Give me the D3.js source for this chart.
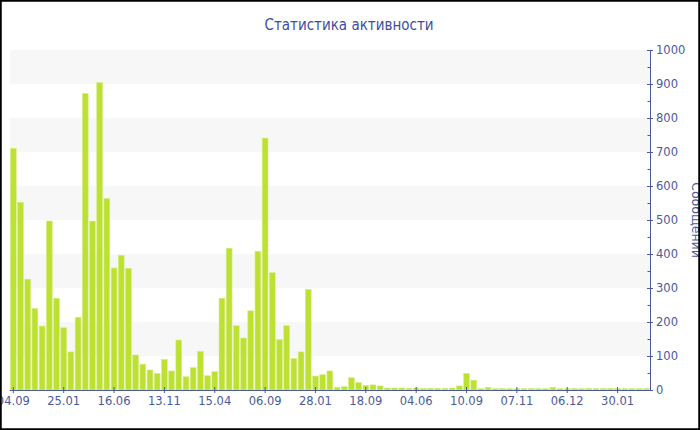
<!DOCTYPE html>
<html>
<head>
<meta charset="utf-8">
<title>Статистика активности</title>
<script src="https://d3js.org/d3.v7.min.js"></script>
<style>
  html, body { margin: 0; padding: 0; background: #fff; }
  svg { display: block; }
</style>
</head>
<body>
<div id="chart"></div>
<script>
// messages per period
var values = [711, 552, 326, 240, 188, 497, 270, 183, 112, 214,
              872, 497, 904, 563, 359, 396, 358, 103, 76, 59,
              49, 90, 56, 147, 39, 66, 114, 42, 54, 270,
              417, 189, 153, 233, 408, 741, 345, 148, 189, 93,
              112, 296, 41, 45, 56, 8, 10, 36, 22, 14,
              15, 12, 6, 6, 6, 5, 6, 5, 5, 5,
              5, 6, 12, 49, 29, 4, 8, 4, 4, 4,
              4, 4, 4, 4, 4, 8, 4, 4, 4, 4,
              5, 4, 4, 5, 4, 4, 4, 4, 4];
// one label every 7th bar
var tickLabels = ['04.09', '25.01', '16.06', '13.11', '15.04', '06.09', '28.01',
                  '18.09', '04.06', '10.09', '07.11', '06.12', '30.01'];
var yTicks = d3.range(0, 1001, 100);

var W = 700, H = 430;
var pLeft = 9.7, pRight = 650, pTop = 50, pBottom = 390;
var blue = '#4a5a9c';
var font = 'DejaVu Sans, Verdana, sans-serif';

var svg = d3.select('#chart').append('svg')
    .attr('width', W).attr('height', H);

var x = d3.scaleBand()
    .domain(d3.range(values.length))
    .range([pLeft, pRight])
    .paddingInner(0.19)
    .paddingOuter(0.1);

var y = d3.scaleLinear().domain([0, 1000]).range([pBottom, pTop]);

// alternating bands
svg.append('g').selectAll('rect')
    .data(d3.range(100, 1000, 200))
    .join('rect')
    .attr('x', pLeft)
    .attr('width', pRight - pLeft)
    .attr('y', function (d) { return y(d + 100); })
    .attr('height', function (d) { return y(d) - y(d + 100); })
    .attr('fill', '#f7f7f7');

// bars
svg.append('g').selectAll('rect')
    .data(values)
    .join('rect')
    .attr('x', function (d, i) { return x(i); })
    .attr('width', x.bandwidth())
    .attr('y', function (d) { return y(d); })
    .attr('height', function (d) { return pBottom - y(d); })
    .attr('fill', '#bde132')
    .attr('stroke', '#d6ee86')
    .attr('stroke-width', 0.6);

// x axis
var xAxis = d3.axisBottom(x)
    .tickValues(d3.range(0, values.length, 7))
    .tickFormat(function (d) { return tickLabels[d / 7]; })
    .tickSizeInner(3)
    .tickSizeOuter(0)
    .tickPadding(4);
var gx = svg.append('g')
    .attr('transform', 'translate(0,' + pBottom + ')')
    .call(xAxis);
gx.select('.domain').attr('stroke', blue).attr('d', 'M' + pLeft + ',0.5H' + pRight);
gx.selectAll('.tick line').attr('stroke', blue).attr('y1', -3);
gx.selectAll('.tick text').attr('fill', blue)
    .style('font-family', font).style('font-size', '11.5px');

// y axis on the right, minor ticks every 50
var gm = svg.append('g').attr('transform', 'translate(' + (pRight + 0.5) + ',0)');
gm.selectAll('line')
    .data(d3.range(50, 1000, 100))
    .join('line')
    .attr('x1', -3).attr('x2', 0)
    .attr('y1', function (d) { return Math.round(y(d)) + 0.5; })
    .attr('y2', function (d) { return Math.round(y(d)) + 0.5; })
    .attr('stroke', blue);

var yAxis = d3.axisRight(y)
    .tickValues(yTicks)
    .tickFormat(d3.format('d'))
    .tickSizeInner(3)
    .tickSizeOuter(0)
    .tickPadding(3);
var gy = svg.append('g')
    .attr('transform', 'translate(' + pRight + ',0)')
    .call(yAxis);
gy.select('.domain').attr('stroke', blue);
gy.selectAll('.tick line').attr('stroke', blue).attr('x1', -3);
gy.selectAll('.tick text').attr('fill', blue)
    .style('font-family', font).style('font-size', '11.5px');

// axis title, clipped by the edge like the original
svg.append('text')
    .attr('transform', 'translate(692,220) rotate(90)')
    .attr('text-anchor', 'middle')
    .attr('fill', blue)
    .style('font-family', font)
    .style('font-size', '12.5px')
    .text('Сообщений');

// title
svg.append('text')
    .attr('x', 349)
    .attr('y', 30)
    .attr('text-anchor', 'middle')
    .attr('fill', '#3d4e9e')
    .style('font-family', '"DejaVu Sans Condensed", "DejaVu Sans", sans-serif')
    .style('font-stretch', 'condensed')
    .style('font-size', '15px')
    .text('Статистика активности');

// frame
svg.append('rect')
    .attr('x', 0).attr('y', 0)
    .attr('width', W).attr('height', H)
    .attr('fill', 'none')
    .attr('stroke', '#000')
    .attr('stroke-width', 3.5);
</script>
</body>
</html>
